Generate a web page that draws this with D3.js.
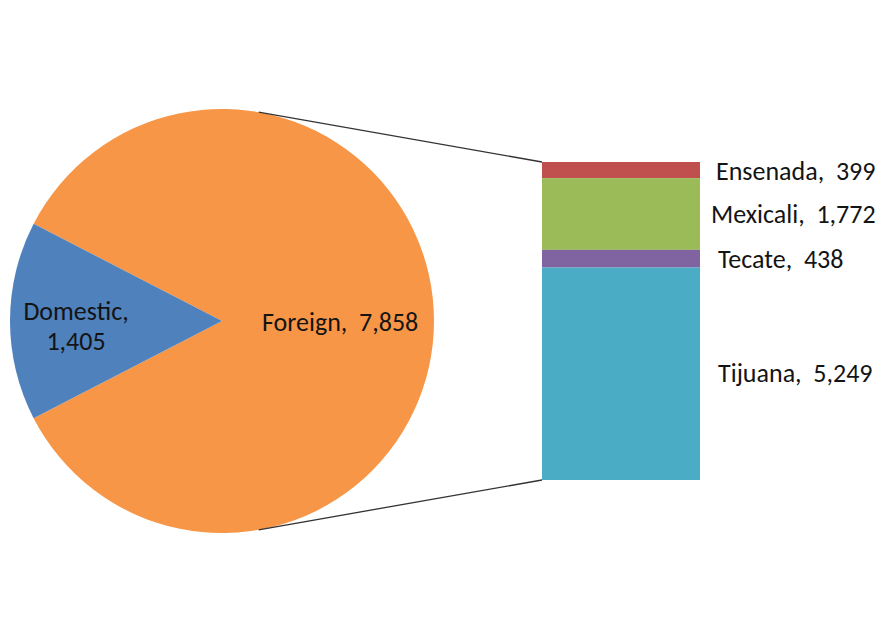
<!DOCTYPE html>
<html>
<head>
<meta charset="utf-8">
<script src="https://cdn.jsdelivr.net/npm/d3@7"></script>
<style>
  html, body { margin: 0; padding: 0; background: #fff; }
  svg text { font-family: Calibri, Carlito, "Open Sans", sans-serif; fill: #141414; }
</style>
</head>
<body>
<div id="chart"></div>
<script>
// pie data
const pieNames = ["Foreign", "Domestic"];
const pieValues = [7858, 1405];
const pieColors = ["#F79646", "#4F81BD"];

// breakdown of Foreign (top to bottom)
const barNames = ["Ensenada", "Mexicali", "Tecate", "Tijuana"];
const barValues = [399, 1772, 438, 5249];
const barColors = ["#C0504D", "#9BBB59", "#8064A2", "#4BACC6"];

const width = 883, height = 621;
const cx = 222, cy = 321, radius = 212;
const bar = { x0: 542, x1: 700, top: 162, bottom: 480 };
const fontSize = "26px";

const fmt = d3.format(",");
const sep = ",\u00A0 ";

let svg = d3.select("#chart")
    .append("svg")
    .attr("width", width)
    .attr("height", height);

// Pie: Domestic centered on the left side
let total = d3.sum(pieValues);
let domAngle = 2 * Math.PI * pieValues[1] / total;
let foreignAngle = 2 * Math.PI * pieValues[0] / total;
let start = 1.5 * Math.PI - foreignAngle - domAngle / 2;

let pie = d3.pie().sort(null).startAngle(start).endAngle(start + 2 * Math.PI);
let arc = d3.arc().innerRadius(0).outerRadius(radius);
let arcs = pie(pieValues);

let pieG = svg.append("g")
    .attr("transform", "translate(" + cx + "," + cy + ")");

pieG.selectAll("path")
    .data(arcs)
    .enter()
    .append("path")
    .attr("d", arc)
    .attr("fill", (d, i) => pieColors[i]);

// pie labels
pieG.append("text")
    .attr("x", 40)
    .attr("y", 10)
    .attr("font-size", fontSize)
    .text(pieNames[0] + sep + fmt(pieValues[0]));

let domLabel = pieG.append("text")
    .attr("text-anchor", "middle")
    .attr("font-size", fontSize);
domLabel.append("tspan").attr("x", -146).attr("y", -1).text(pieNames[1] + ",");
domLabel.append("tspan").attr("x", -146).attr("y", 29).text(fmt(pieValues[1]));

// Stacked bar
let barTotal = d3.sum(barValues);
let y = d3.scaleLinear().domain([0, barTotal]).range([bar.top, bar.bottom]);
let cum = d3.cumsum(barValues);
let segs = barValues.map((v, i) => ({ name: barNames[i], value: v, y0: cum[i] - v, y1: cum[i] }));

svg.append("g")
    .selectAll("rect")
    .data(segs)
    .enter()
    .append("rect")
    .attr("x", bar.x0)
    .attr("width", bar.x1 - bar.x0)
    .attr("y", d => y(d.y0))
    .attr("height", d => y(d.y1) - y(d.y0))
    .attr("fill", (d, i) => barColors[i]);

// bar labels
const labelX = [716, 711, 718, 718];
const labelNudge = [1, 0, 0, -1];
svg.append("g")
    .selectAll("text")
    .data(segs)
    .enter()
    .append("text")
    .attr("x", (d, i) => labelX[i])
    .attr("y", (d, i) => (y(d.y0) + y(d.y1)) / 2 + 9 + labelNudge[i])
    .attr("font-size", fontSize)
    .text(d => d.name + sep + fmt(d.value));

// connector lines: tangents from bar corners to the pie
function tangentPoint(px, py, sign) {
    let dx = px - cx, dy = py - cy;
    let d = Math.sqrt(dx * dx + dy * dy);
    let base = Math.atan2(dy, dx);
    let off = Math.acos(radius / d);
    let a = base + sign * off;
    return [cx + radius * Math.cos(a), cy + radius * Math.sin(a)];
}

let tTop = tangentPoint(bar.x0, bar.top, -1);
let tBot = tangentPoint(bar.x0, bar.bottom, 1);

svg.append("line")
    .attr("x1", tTop[0]).attr("y1", tTop[1])
    .attr("x2", bar.x0).attr("y2", bar.top)
    .attr("stroke", "#333").attr("stroke-width", 1.3);
svg.append("line")
    .attr("x1", tBot[0]).attr("y1", tBot[1])
    .attr("x2", bar.x0).attr("y2", bar.bottom)
    .attr("stroke", "#333").attr("stroke-width", 1.3);
</script>
</body>
</html>
